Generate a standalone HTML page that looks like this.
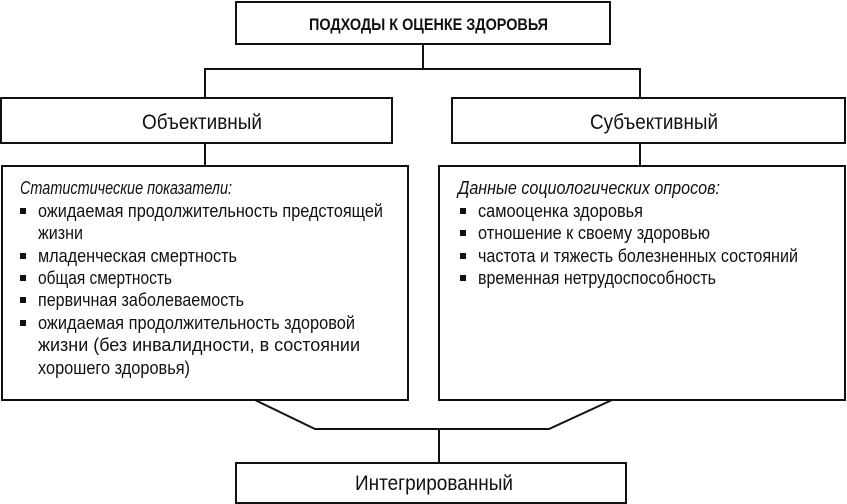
<!DOCTYPE html>
<html><head><meta charset="utf-8"><style>html,body{margin:0;padding:0;background:#fff}svg{display:block}text{font-family:"Liberation Sans",sans-serif;fill:#111}</style></head>
<body>
<svg width="847" height="504" viewBox="0 0 847 504" xmlns="http://www.w3.org/2000/svg">
<g fill="none" stroke="#111" stroke-width="2">
<rect x="236" y="2" width="374" height="42"/>
<line x1="423" y1="44" x2="423" y2="69"/>
<polyline points="205,98 205,69 640,69 640,98"/>
<rect x="1" y="98" width="391" height="45"/>
<rect x="452" y="98" width="393" height="45"/>
<line x1="205" y1="143" x2="205" y2="166"/>
<line x1="640" y1="143" x2="640" y2="166"/>
<rect x="2" y="166" width="406" height="234"/>
<rect x="439" y="166" width="406" height="234"/>
<polyline points="255,400 315,429 549,429 612,400"/>
<line x1="439" y1="429" x2="439" y2="463"/>
<rect x="236" y="463" width="390" height="40"/>
</g>
<g>
<text x="309" y="30" font-weight="bold" font-size="17" textLength="239" lengthAdjust="spacingAndGlyphs">ПОДХОДЫ К ОЦЕНКЕ ЗДОРОВЬЯ</text>
<text x="142" y="129" font-size="21" textLength="120" lengthAdjust="spacingAndGlyphs">Объективный</text>
<text x="590" y="129" font-size="21" textLength="128" lengthAdjust="spacingAndGlyphs">Субъективный</text>
<text x="355" y="490" font-size="21" textLength="158" lengthAdjust="spacingAndGlyphs">Интегрированный</text>
</g>
<g font-size="18">
<text x="20" y="194" font-style="italic" textLength="212" lengthAdjust="spacingAndGlyphs">Статистические показатели:</text>
<text x="38" y="217" textLength="345" lengthAdjust="spacingAndGlyphs">ожидаемая продолжительность предстоящей</text>
<text x="38" y="239" textLength="45" lengthAdjust="spacingAndGlyphs">жизни</text>
<text x="38" y="262" textLength="199" lengthAdjust="spacingAndGlyphs">младенческая смертность</text>
<text x="38" y="284" textLength="134" lengthAdjust="spacingAndGlyphs">общая смертность</text>
<text x="38" y="306" textLength="206" lengthAdjust="spacingAndGlyphs">первичная заболеваемость</text>
<text x="38" y="329" textLength="317" lengthAdjust="spacingAndGlyphs">ожидаемая продолжительность здоровой</text>
<text x="38" y="351" textLength="322" lengthAdjust="spacingAndGlyphs">жизни (без инвалидности, в состоянии</text>
<text x="38" y="374" textLength="152" lengthAdjust="spacingAndGlyphs">хорошего здоровья)</text>
<text x="458" y="194" font-style="italic" textLength="262" lengthAdjust="spacingAndGlyphs">Данные социологических опросов:</text>
<text x="478" y="217" textLength="165" lengthAdjust="spacingAndGlyphs">самооценка здоровья</text>
<text x="478" y="239" textLength="232" lengthAdjust="spacingAndGlyphs">отношение к своему здоровью</text>
<text x="478" y="262" textLength="320" lengthAdjust="spacingAndGlyphs">частота и тяжесть болезненных состояний</text>
<text x="478" y="284" textLength="238" lengthAdjust="spacingAndGlyphs">временная нетрудоспособность</text>
</g>
<g fill="#111">
<rect x="20" y="208" width="6" height="6"/>
<rect x="20" y="253" width="6" height="6"/>
<rect x="20" y="275" width="6" height="6"/>
<rect x="20" y="297" width="6" height="6"/>
<rect x="20" y="320" width="6" height="6"/>
<rect x="460" y="208" width="6" height="6"/>
<rect x="460" y="230" width="6" height="6"/>
<rect x="460" y="253" width="6" height="6"/>
<rect x="460" y="275" width="6" height="6"/>
</g>
</svg>
</body></html>
